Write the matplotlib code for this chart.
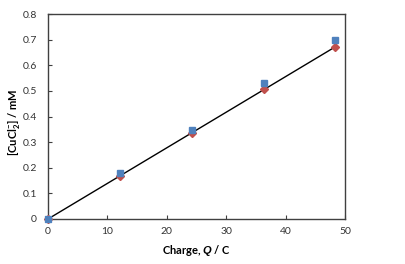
import matplotlib
matplotlib.use("Agg")
import matplotlib.pyplot as plt

charge = [0, 12.1, 24.2, 36.3, 48.3]
conc_measured = [0.0, 0.180, 0.348, 0.532, 0.699]
conc_theory = [0.0, 0.167, 0.335, 0.506, 0.671]
x_ticks = [0, 10, 20, 30, 40, 50]
y_ticks = [0, 0.1, 0.2, 0.3, 0.4, 0.5, 0.6, 0.7, 0.8]
y_ticklabels = ["0", "0.1", "0.2", "0.3", "0.4", "0.5", "0.6", "0.7", "0.8"]

plt.rcParams['font.family'] = ['Lato', 'DejaVu Sans']
plt.rcParams['mathtext.fontset'] = 'custom'
plt.rcParams['mathtext.rm'] = 'Lato:bold'
plt.rcParams['mathtext.it'] = 'Liberation Sans:italic:bold'
plt.rcParams['mathtext.bf'] = 'Lato:bold'

fig = plt.figure(figsize=(4.05, 2.64), dpi=100)
ax = fig.add_axes([48/405, 1-219/264, (345-48)/405, (219-14)/264])

ax.plot([charge[0], charge[-1]], [conc_theory[0], conc_theory[-1]], color='black', lw=1.0, zorder=2)
ax.plot(charge, conc_theory, linestyle='none', marker='D', markersize=3.8, color='#C0504D', zorder=3, clip_on=False)
ax.plot(charge, conc_measured, linestyle='none', marker='s', markersize=5, color='#4F81BD', zorder=4, clip_on=False)

ax.set_xlim(0, 50)
ax.set_ylim(0, 0.8)
ax.set_xticks(x_ticks)
ax.set_yticks(y_ticks)
ax.set_yticklabels(y_ticklabels)
ax.tick_params(axis='x', direction='in', length=3, width=0.8, labelsize=7.5, pad=6, colors='#404040', labelcolor='#333333')
ax.tick_params(axis='y', direction='in', length=3, width=0.8, labelsize=7.5, pad=8, colors='#404040', labelcolor='#333333')
for s in ax.spines.values():
    s.set_linewidth(1.0)
    s.set_color('#404040')

ax.set_xlabel(r'Charge, $Q$ / C', fontsize=8, fontweight='bold', labelpad=5)
ax.set_ylabel(r'[CuCl$_{2}^{\mathbf{-}}$] / mM', fontsize=8, fontweight='bold')
ax.yaxis.set_label_coords(-0.088, 0.47)

fig.savefig('out.png', dpi=100)
